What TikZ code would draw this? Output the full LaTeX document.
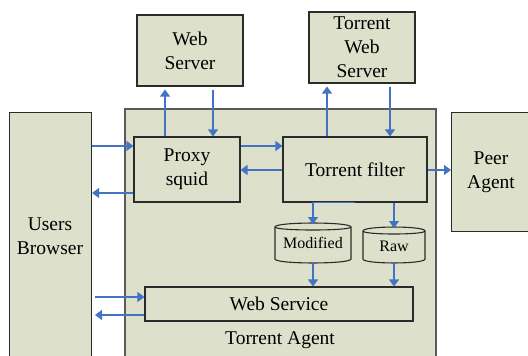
\documentclass[tikz,border=0pt]{standalone}
\usepackage{fontspec}
\setmainfont{Liberation Serif}
\usetikzlibrary{arrows.meta}
\definecolor{boxfill}{HTML}{DDE0CB}
\definecolor{flow}{HTML}{4472C4}
\definecolor{edge}{HTML}{2B2B2B}
\definecolor{outer}{HTML}{5A5A5A}
\begin{document}
\begin{tikzpicture}[x=1pt,y=-1pt,
  box/.style={draw=edge, line width=1.1pt, fill=boxfill, inner sep=0pt},
  bigbox/.style={draw=outer, line width=1.8pt, fill=boxfill, inner sep=0pt},
  txt/.style={font=\fontsize{19.5}{24}\selectfont, align=center, inner sep=0pt},
  small/.style={font=\fontsize{16}{19}\selectfont, inner sep=0pt},
  flowline/.style={draw=flow, line width=1.2pt, -{Triangle[width=10pt,length=7pt]}}]
\useasboundingbox (0,0) rectangle (528,356);
\clip (0,0) rectangle (528,356);

% large containers (run past the lower edge)
\node[bigbox, anchor=north west, minimum width=311pt, minimum height=262pt] (agent) at (124,108) {};
\node[box, anchor=north west, minimum width=82pt, minimum height=258pt] (users) at (9,112) {};
\node[box, anchor=north west, minimum width=84pt, minimum height=119pt] (peer) at (451,112) {};
\node[txt] at (50,236) {Users\\Browser};
\node[txt] at (491,172) {Peer\\Agent};
\node[txt] at (280,340) {Torrent Agent};

% servers
\node[box, minimum width=106pt, minimum height=71pt, txt] (web) at (190,50.5) {Web\\Server};
\node[box, minimum width=106pt, minimum height=71pt, txt] (tws) at (362,47.5) {Torrent\\Web\\Server};

% inner components
\node[box, minimum width=106pt, minimum height=65pt, txt] (proxy) at (187,169.5) {Proxy\\squid};
\node[box, minimum width=144pt, minimum height=65pt, txt] (filter) at (355,169.5) {Torrent filter};
\node[box, minimum width=268pt, minimum height=34pt, txt] (ws) at (279,304) {Web Service};

% storage cylinders
\path[box] (275,227) .. controls (275,221.7) and (351,221.7) .. (351,227)
  -- (351,259) .. controls (351,264.3) and (275,264.3) .. (275,259) -- cycle;
\draw[draw=edge, line width=1.1pt] (275,227) .. controls (275,231) and (351,231) .. (351,227);
\path[box] (363,231) .. controls (363,225.7) and (425,225.7) .. (425,231)
  -- (425,259) .. controls (425,264.3) and (363,264.3) .. (363,259) -- cycle;
\draw[draw=edge, line width=1.1pt] (363,231) .. controls (363,235) and (425,235) .. (425,231);
\node[small] (mod) at (313,243) {Modified};
\node[small] (raw) at (394,246) {Raw};
\coordinate (modtop) at (313,224);
\coordinate (modbot) at (313,263);
\coordinate (rawtop) at (394,228);
\coordinate (rawbot) at (394,263);

% connector rows and columns
\coordinate (rowa) at (0,146);
\coordinate (rowb) at (0,193);
\coordinate (rowc) at (0,170);
\coordinate (cola) at (165,0);
\coordinate (colb) at (213,0);
\coordinate (colc) at (327,0);
\coordinate (cold) at (390,0);
\coordinate (wsin) at (95,297);
\coordinate (wsout) at (95,315);

\draw[flowline] (users.east |- rowa) -- (proxy.west |- rowa);
\draw[flowline] (proxy.west |- rowb) -- (users.east |- rowb);
\draw[flowline, shorten >=3pt] (cola |- proxy.north) -- (cola |- web.south);
\draw[flowline, shorten <=3pt] (colb |- web.south) -- (colb |- proxy.north);
\draw[flowline] (proxy.east |- rowa) -- (filter.west |- rowa);
\draw[flowline] (filter.west |- rowc) -- (proxy.east |- rowc);
\draw[flowline, shorten >=3pt] (colc |- filter.north) -- (colc |- tws.south);
\draw[flowline, shorten <=3pt] (cold |- tws.south) -- (cold |- filter.north);
\draw[flowline] (filter.east |- rowc) -- (peer.west |- rowc);
\draw[flowline] (filter.south) -| (modtop);
\draw[flowline] (rawtop |- filter.south) -- (rawtop);
\draw[flowline] (modbot) -- (modbot |- ws.north);
\draw[flowline] (rawbot) -- (rawbot |- ws.north);
\draw[flowline] (wsin) -- (ws.west |- wsin);
\draw[flowline] (ws.west |- wsout) -- (wsout);
\end{tikzpicture}
\end{document}
